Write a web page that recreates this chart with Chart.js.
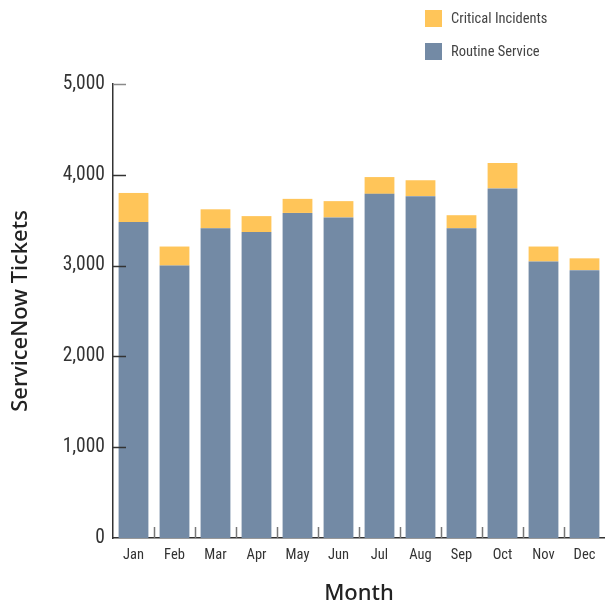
<!DOCTYPE html>
<html><head><meta charset="utf-8">
<script src="https://cdn.jsdelivr.net/npm/chart.js@4"></script>
<style>html,body{margin:0;padding:0;background:#fff}canvas{display:block}</style>
</head><body>
<canvas id="c" width="605" height="604"></canvas>
<script>
const months = ['Jan','Feb','Mar','Apr','May','Jun','Jul','Aug','Sep','Oct','Nov','Dec'];
const routineService = [3480,3000,3410,3370,3580,3530,3790,3765,3410,3850,3045,2950];
const criticalIncidents = [320,210,210,175,155,180,185,175,145,280,165,130];
const yTickValues = [0,1000,2000,3000,4000,5000];

const COND = '"Liberation Sans Narrow","Roboto Condensed","Roboto",sans-serif';

const innerTicks = {
  id: 'innerTicks',
  afterDatasetsDraw(chart) {
    const {ctx, chartArea} = chart;
    const y = chart.scales.y, x = chart.scales.x;
    ctx.save();
    ctx.lineWidth = 1.5;
    yTickValues.forEach(v => {
      if (v === 0) return;
      const py = Math.round(y.getPixelForValue(v)) + 0.5;
      ctx.strokeStyle = v === 5000 ? '#8a8a8a' : '#333';
      ctx.beginPath(); ctx.moveTo(chartArea.left, py); ctx.lineTo(chartArea.left + 13, py); ctx.stroke();
    });
    ctx.strokeStyle = '#777';
    for (let i = 0; i + 1 < months.length; i++) {
      const bx = Math.round((x.getPixelForValue(i) + x.getPixelForValue(i + 1)) / 2) + 0.5;
      ctx.beginPath(); ctx.moveTo(bx, chartArea.bottom); ctx.lineTo(bx, chartArea.bottom - 11); ctx.stroke();
    }
    ctx.restore();
  }
};

const customLegend = {
  id: 'customLegend',
  afterDraw(chart) {
    const ctx = chart.ctx;
    const items = [chart.data.datasets[1], chart.data.datasets[0]];
    ctx.save();
    ctx.font = '14.5px ' + COND;
    ctx.textBaseline = 'middle';
    items.forEach((ds, i) => {
      const yy = 10 + i * 33;
      ctx.fillStyle = ds.backgroundColor;
      ctx.fillRect(425, yy, 17, 17);
      ctx.fillStyle = '#444';
      ctx.fillText(ds.label, 451, yy + 9);
    });
    ctx.restore();
  }
};

new Chart(document.getElementById('c'), {
  type: 'bar',
  data: {
    labels: months,
    datasets: [
      { label: 'Routine Service', data: routineService, backgroundColor: '#738AA5', barPercentage: 0.727, categoryPercentage: 1 },
      { label: 'Critical Incidents', data: criticalIncidents, backgroundColor: '#FFC559', barPercentage: 0.727, categoryPercentage: 1 }
    ]
  },
  options: {
    responsive: false,
    animation: false,
    layout: { padding: { top: 84, left: 0, right: -4, bottom: 0 } },
    plugins: { legend: { display: false }, tooltip: { enabled: false } },
    scales: {
      x: {
        stacked: true,
        grid: { display: false, drawTicks: false },
        border: { display: true, color: '#333', width: 1.5 },
        ticks: { color: '#333', font: { family: COND, size: 14.5 }, padding: 9, maxRotation: 0 },
        title: { display: true, text: 'Month', color: '#222', font: { family: '"Noto Sans",sans-serif', size: 22, weight: '500' }, padding: { top: 4, bottom: -3 } },
        afterFit(s) { s.height = 66; }
      },
      y: {
        stacked: true,
        min: 0, max: 5000,
        grid: { display: false, drawTicks: false },
        border: { display: true, color: '#333', width: 1.5 },
        afterBuildTicks(s) { s.ticks = yTickValues.map(v => ({ value: v })); },
        ticks: { color: '#333', font: { family: COND, size: 19.5 }, padding: 8,
          callback: v => v.toLocaleString('en-US') },
        title: { display: true, text: 'ServiceNow Tickets', color: '#222', font: { family: '"Noto Sans",sans-serif', size: 22, weight: '500' }, padding: { top: 8, bottom: 6 } },
        afterFit(s) { s.width = 113; }
      }
    }
  },
  plugins: [innerTicks, customLegend]
});
</script>
</body></html>
